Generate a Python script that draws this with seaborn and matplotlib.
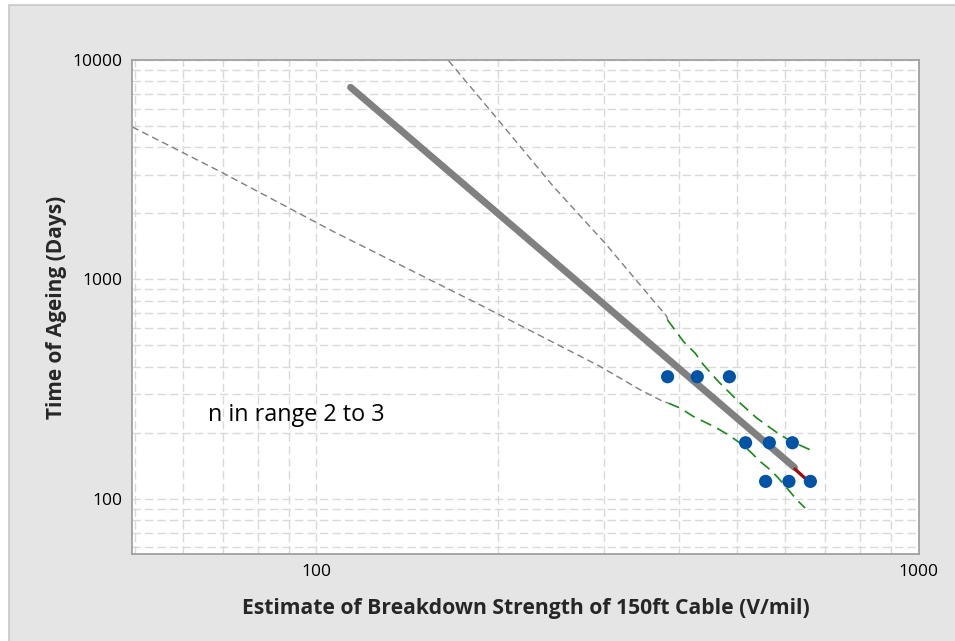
import numpy as np
import pandas as pd
import matplotlib
matplotlib.use("Agg")
import matplotlib.pyplot as plt
import seaborn as sns
from matplotlib.patches import Rectangle
from matplotlib.ticker import LogLocator, NullFormatter

# ---------------- data ----------------
strength = [383, 429, 485, 516, 565, 617, 557, 609, 661]
days = [360, 360, 360, 180, 180, 180, 120, 120, 120]

fit_x = [114, 622]
fit_y = [7510, 139]

red_x = [623, 652]
red_y = [136.6, 122]

# extrapolated bounds (grey dashed)
upper_ext_x = [165.8, 199.4, 247.6, 301.6, 381.8, 383]
upper_ext_y = [9926, 5426, 2648, 1462, 677, 654]
lower_ext_x = [49.5, 69.3, 106.8, 187.1, 295.9, 344.8, 376.5, 384]
lower_ext_y = [4953, 3098, 1651, 765, 401, 314, 277.5, 273]

# bounds within data range (green dashed)
upper_x = [382.8, 406.9, 425.5, 439.3, 465.0, 483.2, 501.9, 538.6, 563.1, 588.8, 615.5, 660.2]
upper_y = [653.9, 520.9, 461.1, 407.8, 342.2, 308.3, 277.5, 233.2, 213.5, 195.6, 182.4, 167.2]
lower_x = [384.1, 401.8, 422.7, 444.9, 462.2, 483.2, 505.1, 524.8, 545.5, 566.8, 584.8, 607.6, 627.6, 647.9]
lower_y = [272.9, 259.0, 237.1, 221.3, 209.9, 195.6, 179.4, 164.3, 147.9, 135.6, 124.3, 109.9, 98.9, 90.7]

x_ticks = [100, 1000]
x_tick_labels = ["100", "1000"]
y_ticks = [100, 1000, 10000]
y_tick_labels = ["100", "1000", "10000"]

x_label = "Estimate of Breakdown Strength of 150ft Cable (V/mil)"
y_label = "Time of Ageing (Days)"
note = "n in range 2 to 3"

# ---------------- styling ----------------
sns.set_theme(style="white")
plt.rcParams["font.family"] = ["Open Sans", "DejaVu Sans"]

W, H = 955, 641
fig = plt.figure(figsize=(W / 100, H / 100), dpi=100, facecolor="white")
fig.patches.append(Rectangle((9 / W, -0.01), 1.0, (H - 5) / H + 0.01,
                             transform=fig.transFigure, facecolor="#e5e5e5",
                             edgecolor="#c8c8c8", lw=1.2, zorder=-10))
ax = fig.add_axes([132.3 / W, (H - 554) / H, (918.7 - 132.3) / W, (554 - 60) / H])
ax.set_facecolor("white")

ax.set_xscale("log")
ax.set_yscale("log")

grey_dash = (0, (5, 3))
green_dash = (0, (7, 4))

sns.lineplot(x=upper_ext_x, y=upper_ext_y, ax=ax, color="#7f7f7f", lw=1.0,
             linestyle=grey_dash, sort=False, estimator=None, zorder=2)
sns.lineplot(x=lower_ext_x, y=lower_ext_y, ax=ax, color="#7f7f7f", lw=1.0,
             linestyle=grey_dash, sort=False, estimator=None, zorder=2)
sns.lineplot(x=upper_x, y=upper_y, ax=ax, color="#1a8a1a", lw=1.2,
             linestyle=green_dash, sort=False, estimator=None, zorder=3)
sns.lineplot(x=lower_x, y=lower_y, ax=ax, color="#1a8a1a", lw=1.2,
             linestyle=green_dash, sort=False, estimator=None, zorder=3)
sns.lineplot(x=fit_x, y=fit_y, ax=ax, color="#808080", lw=5.0,
             sort=False, estimator=None, zorder=4)
sns.lineplot(x=red_x, y=red_y, ax=ax, color="#9b1010", lw=2.4,
             sort=False, estimator=None, zorder=4)
sns.scatterplot(x=strength, y=days, ax=ax, color="#0054a6", s=90,
                edgecolor="none", zorder=5)

ax.set_xlim(49.5, 1000)
ax.set_ylim(56, 10000)

ax.xaxis.set_minor_locator(LogLocator(base=10, subs=np.arange(2, 10)))
ax.yaxis.set_minor_locator(LogLocator(base=10, subs=np.arange(2, 10)))
ax.set_xticks(x_ticks)
ax.set_xticklabels(x_tick_labels)
ax.set_yticks(y_ticks)
ax.set_yticklabels(y_tick_labels)
ax.xaxis.set_minor_formatter(NullFormatter())
ax.yaxis.set_minor_formatter(NullFormatter())

ax.grid(which="both", color="#d9d9d9", linestyle=(0, (6, 3)), linewidth=1.0, zorder=0)
ax.set_axisbelow(True)

ax.tick_params(which="major", length=4, width=1, color="#a0a0a0",
               labelsize=12.5, labelcolor="black", pad=3)
ax.tick_params(which="minor", length=0)

for sp in ax.spines.values():
    sp.set_color("#a0a0a0")
    sp.set_linewidth(1.3)

ax.set_xlabel(x_label, fontsize=15.2, fontweight="bold", labelpad=13)
ax.set_ylabel(y_label, fontsize=15, fontweight="bold", labelpad=4)

ax.text(0.0966, 0.2814, note, transform=ax.transAxes, ha="left", va="center",
        fontsize=16.8, color="black")

fig.savefig("out.png", dpi=100, facecolor=fig.get_facecolor())
